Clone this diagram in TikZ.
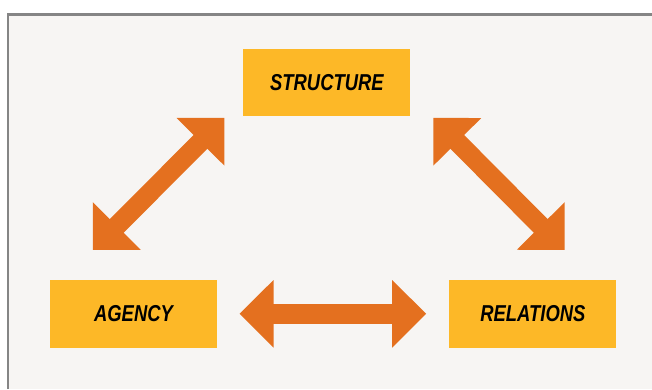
\documentclass[tikz,border=0pt]{standalone}
\usepackage{fontspec}
\setsansfont{Liberation Sans}
\usetikzlibrary{arrows.meta}
\usetikzlibrary{positioning}
\definecolor{framegray}{HTML}{858585}
\definecolor{panel}{HTML}{F7F5F3}
\definecolor{boxfill}{HTML}{FDB827}
\definecolor{arrowfill}{HTML}{E4701F}
\tikzset{
  concept/.style={fill=boxfill, minimum width=167pt, minimum height=67.7pt, inner sep=0pt,
    font=\sffamily\bfseries\itshape\fontsize{23}{23}\selectfont},
  bigarrow/.style={draw=arrowfill, line width=19.4pt,
    {Triangle[width=65.5pt,length=34pt]}-{Triangle[width=65.5pt,length=34pt]}},
}
\newcommand{\narrow}[1]{\scalebox{0.8}[1]{#1}}

\begin{document}
\begin{tikzpicture}[x=1pt,y=1pt]
  \useasboundingbox (0,0) rectangle (652,389);
  % panel and frame
  \fill[panel] (8.3,0) rectangle (652,374.5);
  \draw[framegray, line width=2.3pt] (8.3,0) -- (8.3,374.5) -- (652,374.5);
  % the three boxes
  \node[concept] (agency) at (133.5,75.2) {\narrow{AGENCY}};
  \node[concept, right=232pt of agency] (relations) {\narrow{RELATIONS}};
  \node[concept, above right=163.3pt and 26pt of agency] (structure) {\narrow{STRUCTURE}};
  % arrow ends
  \coordinate (al) at ([shift={(-40.8,29.7)}]agency.north);
  \coordinate (sl) at ([shift={(-18.7,-1.3)}]structure.south west);
  \coordinate (sr) at ([shift={(22.7,-1.3)}]structure.south east);
  \coordinate (rr) at ([shift={(31.8,29.7)}]relations.north);
  % arrows
  \draw[bigarrow] (al) -- (sl);
  \draw[bigarrow] (sr) -- (rr);
  \draw[bigarrow, shorten <=22.3pt, shorten >=23pt] (agency.east) -- (relations.west);
\end{tikzpicture}
\end{document}
